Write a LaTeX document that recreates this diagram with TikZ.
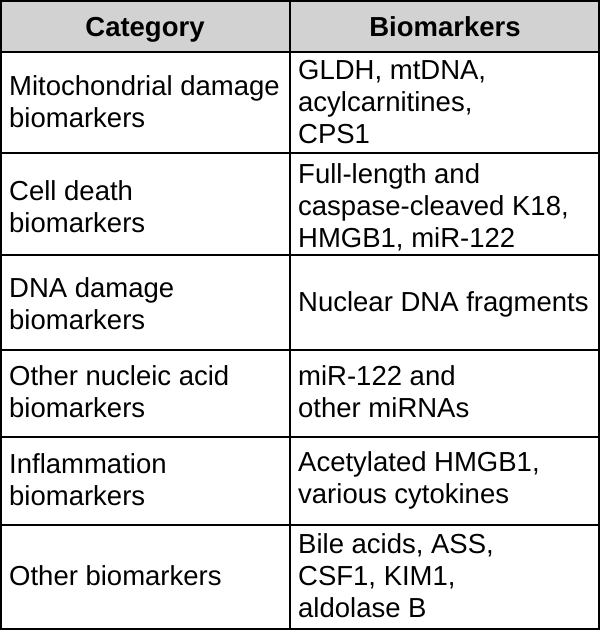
\documentclass[tikz,border=0pt]{standalone}
\usepackage{fontspec}
\setmainfont{Liberation Sans}
\usetikzlibrary{positioning}

\begin{document}
\begin{tikzpicture}[x=1pt,y=-1pt,
    cell/.style={anchor=west, align=left, inner sep=0pt, font=\fontsize{27.5}{32}\selectfont},
    head/.style={anchor=base, inner sep=0pt, font=\fontsize{27.5}{32}\selectfont\bfseries}]
    \useasboundingbox (0,0) rectangle (600,630);
    % Header
    \fill[gray!35] (1,1) rectangle (599,52);
    \node (hcat) [head] at (145,36) {Category};
    \node (hbio) [head] at (445,36) {Biomarkers};
    % Rows
    \node (c1) [cell] at (9,102) {Mitochondrial damage\\biomarkers};
    \node (b1) [cell] at (298,102) {GLDH, mtDNA,\\acylcarnitines,\\CPS1};
    \node (c2) [cell] at (9,207) {Cell death\\biomarkers};
    \node (b2) [cell] at (298,207) {Full-length and\\caspase-cleaved K18,\\HMGB1, miR-122};
    \node (c3) [cell] at (9,304) {DNA damage\\biomarkers};
    \node (b3) [cell] at (298,304) {Nuclear DNA fragments};
    \node (c4) [cell] at (9,392) {Other nucleic acid\\biomarkers};
    \node (b4) [cell] at (298,392) {miR-122 and\\other miRNAs};
    \node (c5) [cell] at (9,480) {Inflammation\\biomarkers};
    \node (b5) [cell] at (298,480) {Acetylated HMGB1,\\various cytokines};
    \node (c6) [cell] at (9,576) {Other biomarkers};
    \node (b6) [cell] at (298,576) {Bile acids, ASS,\\CSF1, KIM1,\\aldolase B};
    % Grid
    \foreach \y in {52,153,255,350,437,525}
        \draw[line width=1.5pt] (0,\y) -- (600,\y);
    \draw[line width=1.5pt] (290,0) -- (290,630);
    \draw[line width=2pt] (1,1) rectangle (599,629);
\end{tikzpicture}
\end{document}
